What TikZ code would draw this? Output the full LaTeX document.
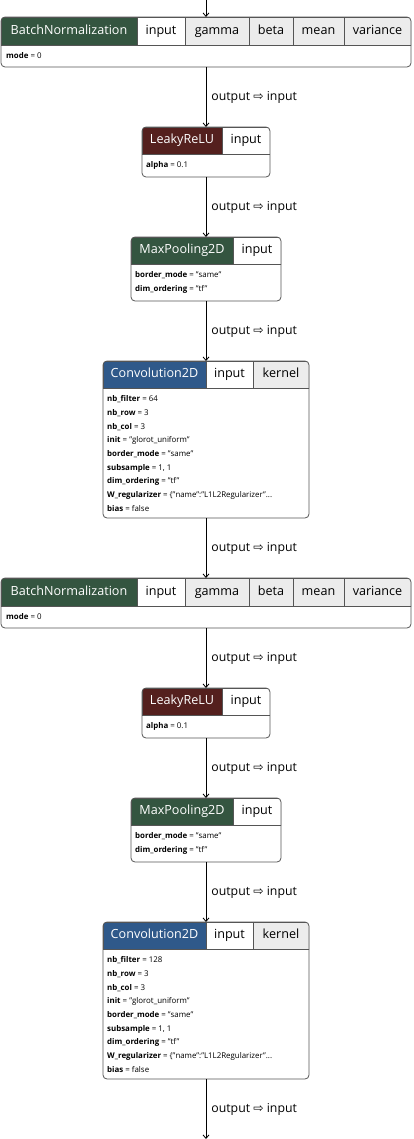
\documentclass[tikz,border=0pt]{standalone}
\usepackage{fontspec}
\setmainfont{Open Sans}
\newfontfamily\symfont{DejaVu Sans}
\usetikzlibrary{arrows.meta,positioning}
\definecolor{layergreen}{RGB}{52,85,64}
\definecolor{layerred}{RGB}{84,32,30}
\definecolor{layerblue}{RGB}{47,89,138}
\definecolor{portgray}{RGB}{236,236,236}
\definecolor{edgegray}{RGB}{85,85,85}
\newcommand{\kv}[2]{\textbf{#1} = #2}

\begin{document}
\begin{tikzpicture}[x=1pt,y=-1pt,
  frame/.style={draw=edgegray,line width=0.8pt,rounded corners=4pt,inner sep=0pt,outer sep=0pt,anchor=north west},
  cell/.style={draw=edgegray,line width=0.8pt,inner sep=0pt,outer sep=0pt,minimum height=27pt,font=\fontsize{12.6}{13}\selectfont,text height=9pt,text depth=2.8pt},
  layer/.style={cell,fill=#1,text=white},
  port/.style={cell,fill=white},
  weight/.style={cell,fill=portgray},
  attrs/.style={anchor=north west,inner sep=0pt,align=left,font=\fontsize{7.9}{13.7}\selectfont},
  flow/.style={-{Straight Barb[length=3.5pt,width=6pt]},line width=0.8pt},
  flowlabel/.style={right=3pt,inner sep=2pt,font=\fontsize{12.3}{13}\selectfont}]

  \useasboundingbox (0,0) rectangle (413,1139);
  \coordinate (in) at (206,0);
  \coordinate (out) at (206,1139);

  \foreach \k/\dy/\nf in {1/0/64,2/561/128}{
    % BatchNormalization
    \begin{scope}
      \clip[rounded corners=4pt] (1,17+\dy) rectangle ++(410,50);
      \node[layer=layergreen,minimum width=136pt,minimum height=28pt,anchor=north west] (bnname\k) at (1,17+\dy) {BatchNormalization};
      \node[port,minimum width=48pt,minimum height=28pt,right=0pt of bnname\k] (bnin\k) {input};
      \node[weight,minimum width=64pt,minimum height=28pt,right=0pt of bnin\k] (bngamma\k) {gamma};
      \node[weight,minimum width=44pt,minimum height=28pt,right=0pt of bngamma\k] (bnbeta\k) {beta};
      \node[weight,minimum width=51pt,minimum height=28pt,right=0pt of bnbeta\k] (bnmean\k) {mean};
      \node[weight,minimum width=67pt,minimum height=28pt,right=0pt of bnmean\k] (bnvar\k) {variance};
    \end{scope}
    \node[frame,minimum width=410pt,minimum height=50pt] (bn\k) at (1,17+\dy) {};
    \node[attrs] (bnattr\k) at (6,52.5+\dy) {\kv{mode}{0}};

    % LeakyReLU
    \begin{scope}
      \clip[rounded corners=4pt] (142,127+\dy) rectangle ++(128,50);
      \node[layer=layerred,minimum width=80pt,anchor=north west] (lrname\k) at (142,127+\dy) {LeakyReLU};
      \node[port,minimum width=48pt,right=0pt of lrname\k] (lrin\k) {input};
    \end{scope}
    \node[frame,minimum width=128pt,minimum height=50pt] (lr\k) at (142,127+\dy) {};
    \node[attrs] (lrattr\k) at (146,161.5+\dy) {\kv{alpha}{0.1}};

    % MaxPooling2D
    \begin{scope}
      \clip[rounded corners=4pt] (131,237+\dy) rectangle ++(150,64);
      \node[layer=layergreen,minimum width=102pt,anchor=north west] (mpname\k) at (131,237+\dy) {MaxPooling2D};
      \node[port,minimum width=48pt,right=0pt of mpname\k] (mpin\k) {input};
    \end{scope}
    \node[frame,minimum width=150pt,minimum height=64pt] (mp\k) at (131,237+\dy) {};
    \node[attrs] (mpattr\k) at (135,271.5+\dy) {\kv{border\_mode}{"same"}\\\kv{dim\_ordering}{"tf"}};

    % Convolution2D
    \begin{scope}
      \clip[rounded corners=4pt] (103,361+\dy) rectangle ++(206,157);
      \node[layer=layerblue,minimum width=103pt,anchor=north west] (cvname\k) at (103,361+\dy) {Convolution2D};
      \node[port,minimum width=47pt,right=0pt of cvname\k] (cvin\k) {input};
      \node[weight,minimum width=56pt,right=0pt of cvin\k] (cvkernel\k) {kernel};
    \end{scope}
    \node[frame,minimum width=206pt,minimum height=157pt] (cv\k) at (103,361+\dy) {};
    \node[attrs] (cvattr\k) at (107,395.5+\dy) {\kv{nb\_filter}{\nf}\\\kv{nb\_row}{3}\\\kv{nb\_col}{3}\\
      \kv{init}{"glorot\_uniform"}\\\kv{border\_mode}{"same"}\\\kv{subsample}{1, 1}\\
      \kv{dim\_ordering}{"tf"}\\\kv{W\_regularizer}{\{"name":"L1L2Regularizer"...}\\\kv{bias}{false}};
  }

  \draw[flow] (in) -- (bn1);
  \foreach \a/\b in {bn1/lr1,lr1/mp1,mp1/cv1,cv1/bn2,bn2/lr2,lr2/mp2,mp2/cv2,cv2/out}
    {\draw[flow] (\a) -- (\b) node[midway,flowlabel] {output {\symfont ⇨} input};}
\end{tikzpicture}
\end{document}
